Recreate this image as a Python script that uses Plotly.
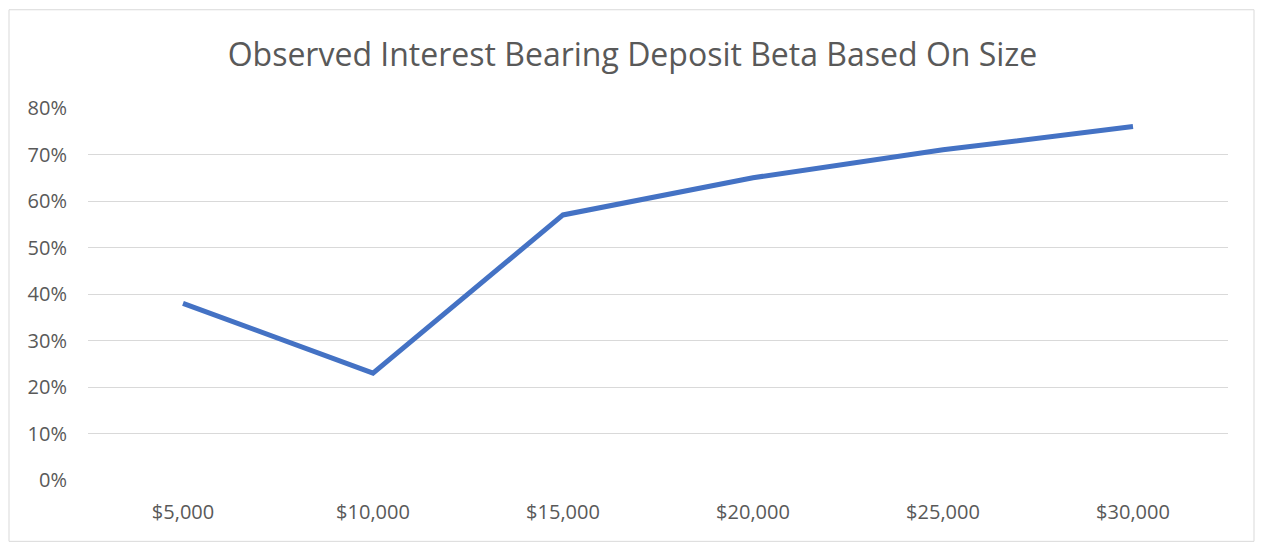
import plotly.graph_objects as go

categories = ["$5,000", "$10,000", "$15,000", "$20,000", "$25,000", "$30,000"]
beta = [0.38, 0.23, 0.57, 0.65, 0.71, 0.76]
title_text = "Observed Interest Bearing Deposit Beta Based On Size"

W, H = 1262, 553
L, R, T, B = 88, 34, 107.5, 72.5
pw, ph = W - L - R, H - T - B

fig = go.Figure()
fig.add_trace(go.Scatter(
    x=categories, y=beta, mode="lines",
    line=dict(color="#4472C4", width=5, shape="linear"),
    hoverinfo="skip",
))

def px_to_paper_x(px):
    return (px - L) / pw

def px_to_paper_y(py):
    return (H - B - py) / ph

fig.add_shape(type="rect", xref="paper", yref="paper",
              x0=px_to_paper_x(9), x1=px_to_paper_x(1254),
              y0=px_to_paper_y(542), y1=px_to_paper_y(9),
              line=dict(color="#D9D9D9", width=1), fillcolor="rgba(0,0,0,0)", layer="below")

fig.update_layout(
    width=W, height=H,
    margin=dict(l=L, r=R, t=T, b=B),
    paper_bgcolor="white", plot_bgcolor="white",
    showlegend=False,
    font=dict(family="Open Sans", color="#595959", size=20),
    title=dict(text=title_text, x=632.5 / W, xref="container", xanchor="center",
               y=1 - 55 / H, yref="container", yanchor="middle",
               font=dict(family="Open Sans", size=32, color="#595959")),
    xaxis=dict(type="category", range=[-0.5, 5.5], showgrid=False, zeroline=False,
               showline=False, ticks="", ticklabelstandoff=18,
               tickfont=dict(size=20, color="#595959")),
    yaxis=dict(range=[0, 0.8], dtick=0.1, tickformat=".0%", showgrid=True,
               gridcolor="#D9D9D9", gridwidth=1.3, zeroline=False, showline=False,
               ticks="", ticklabelstandoff=20,
               tickfont=dict(size=20, color="#595959")),
)

fig.write_html("out.html")
